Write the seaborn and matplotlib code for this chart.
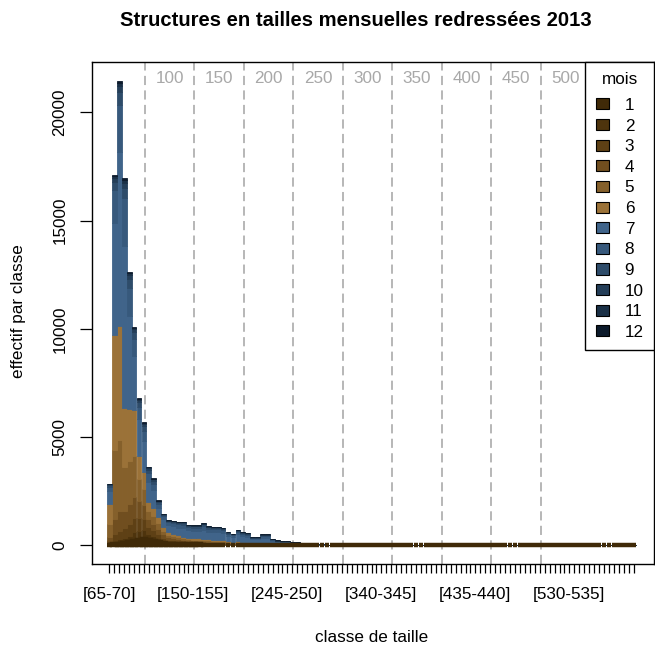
import matplotlib
matplotlib.use("Agg")
import matplotlib.pyplot as plt
import matplotlib.transforms as mtransforms
from matplotlib.patches import Patch
from matplotlib.colors import to_rgba
import pandas as pd
import seaborn as sns

# ---- size classes (5 units wide) -------------------------------------------
class_low = list(range(65, 600, 5))
class_labels = [f"[{lo}-{lo + 5}]" for lo in class_low]
shown_labels = ["[65-70]", "[150-155]", "[245-250]", "[340-345]", "[435-440]", "[530-535]"]
ref_sizes = [100, 150, 200, 250, 300, 350, 400, 450, 500]

months = list(range(1, 13))
month_colors = ["#402a08", "#4e340d", "#5e4015", "#704e1f", "#85602b", "#9b7238",
                "#40648a", "#37597c", "#2e4c6a", "#243e58", "#1a3046", "#0c1a2b"]

# ---- monthly counts per class (first 44 classes; larger classes are empty) --
m01 = [30, 60, 80, 100, 150, 200, 250, 300, 250, 200, 150, 100, 80, 70, 60, 50, 50, 45, 45, 40, 40, 35,
       35, 30, 25, 25, 25, 25, 20, 15, 15, 15, 15, 10, 10, 10, 5, 5, 5, 5, 5, 5, 0, 0]
m02 = [60, 150, 200, 250, 300, 400, 400, 400, 300, 250, 200, 130, 90, 80, 70, 60, 55, 50, 50, 45, 45, 40,
       40, 40, 30, 30, 30, 30, 25, 20, 20, 20, 20, 15, 10, 10, 10, 10, 5, 5, 5, 5, 5, 5]
m03 = [110, 300, 400, 450, 550, 650, 600, 500, 300, 250, 200, 130, 100, 90, 80, 70, 60, 55, 55, 50, 45, 45,
       40, 40, 35, 30, 35, 30, 25, 20, 20, 20, 20, 15, 10, 10, 10, 10, 10, 5, 5, 5, 5, 5]
m04 = [200, 700, 900, 800, 900, 1000, 800, 650, 350, 300, 220, 150, 110, 90, 80, 70, 60, 60, 55, 55, 50, 45,
       45, 40, 35, 30, 35, 30, 30, 20, 20, 25, 20, 15, 15, 10, 10, 10, 5, 5, 5, 5, 5, 5]
m05 = [600, 3200, 3300, 2000, 2000, 1900, 1000, 750, 400, 350, 250, 160, 110, 100, 80, 70, 60, 60, 55, 55, 50, 45,
       45, 45, 35, 30, 35, 30, 30, 20, 20, 25, 20, 15, 10, 10, 10, 5, 5, 5, 5, 5, 0, 0]
m06 = [900, 5290, 5270, 2730, 2400, 2100, 1100, 800, 400, 400, 280, 180, 130, 110, 90, 70, 65, 60, 60, 55, 50, 50,
       45, 45, 40, 35, 40, 35, 30, 25, 25, 25, 25, 20, 15, 10, 10, 10, 10, 5, 5, 5, 5, 5]
m07 = [600, 5200, 8000, 7500, 4300, 2500, 1700, 1400, 950, 800, 450, 350, 310, 340, 360, 400, 350, 345, 355, 425, 350, 345,
       350, 325, 240, 210, 305, 255, 240, 155, 155, 220, 230, 130, 95, 80, 85, 70, 65, 45, 45, 45, 25, 25]
m08 = [200, 1500, 2200, 2200, 1300, 800, 550, 500, 380, 300, 180, 140, 130, 140, 150, 165, 145, 140, 145, 175, 140, 140,
       140, 135, 100, 85, 125, 100, 95, 60, 60, 90, 90, 50, 35, 35, 35, 30, 25, 20, 20, 20, 10, 10]
m09 = [80, 400, 600, 500, 400, 300, 220, 220, 160, 140, 80, 60, 55, 60, 60, 70, 60, 60, 60, 70, 60, 55,
       60, 55, 40, 35, 50, 45, 40, 25, 25, 40, 40, 25, 15, 15, 15, 10, 10, 10, 10, 10, 5, 5]
m10 = [40, 150, 250, 230, 170, 130, 100, 100, 70, 60, 40, 30, 25, 30, 30, 35, 30, 30, 30, 35, 30, 30,
       30, 30, 20, 20, 30, 20, 20, 15, 15, 20, 20, 10, 10, 5, 5, 5, 5, 5, 5, 5, 0, 0]
m11 = [20, 100, 170, 120, 110, 70, 50, 50, 40, 30, 20, 15, 15, 15, 15, 15, 15, 15, 15, 20, 15, 15,
       15, 10, 10, 10, 10, 10, 10, 10, 10, 10, 10, 5, 5, 5, 5, 5, 5, 0, 0, 0, 0, 0]
m12 = [10, 50, 100, 80, 60, 40, 30, 30, 20, 20, 10, 5, 5, 5, 5, 5, 5, 5, 5, 5, 5, 5,
       5, 5, 5, 0, 5, 5, 5, 0, 0, 0, 0, 0, 0, 0, 0, 0, 0, 0, 0, 0, 0, 0]

monthly = [m01, m02, m03, m04, m05, m06, m07, m08, m09, m10, m11, m12]
empty_tail = [0] * (len(class_low) - len(m01))

rows = []
for mois, counts in zip(months, monthly):
    for pos, n in enumerate(counts + empty_tail):
        rows.append({"pos": pos, "classe": class_labels[pos], "mois": mois, "n": n})
df = pd.DataFrame(rows)

totals = df.groupby("pos")["n"].sum()
peak = totals.max()

# ---- figure -----------------------------------------------------------------
sns.set_style("ticks")
plt.rcParams["font.family"] = ["Liberation Sans", "DejaVu Sans"]
plt.rcParams["text.color"] = "black"
plt.rcParams["axes.labelcolor"] = "black"
plt.rcParams["xtick.color"] = "black"
plt.rcParams["ytick.color"] = "black"

W, H = 655, 646
fig = plt.figure(figsize=(W / 100, H / 100), dpi=100)
ax = fig.add_axes([92 / W, 1 - 564 / H, (654 - 92) / W, (564 - 62) / H])

palette = dict(zip(months, month_colors))
sns.histplot(data=df, x="pos", weights="n", hue="mois", hue_order=months[::-1],
             palette=palette, multiple="stack", discrete=True, shrink=0.97,
             element="bars", fill=True, alpha=1, linewidth=0, legend=False, ax=ax)

# bars: flat fill; the first month carries a thick outline so empty classes show at zero
base_rgba = to_rgba(month_colors[0])
for p in ax.patches:
    fc = p.get_facecolor()
    p.set_edgecolor(fc)
    if all(abs(a - b) < 1e-3 for a, b in zip(fc[:3], base_rgba[:3])):
        p.set_linewidth(3.2)
        p.set_zorder(2.5)
    else:
        p.set_linewidth(0.6)

# reference size lines
blend = mtransforms.blended_transform_factory(ax.transData, ax.transAxes)
for v in ref_sizes:
    pos = class_low.index(v)
    ax.axvline(pos + 0.2, color="#a3a3a3", lw=1.1, ls=(0, (6, 3.5)), zorder=0.5)
    ax.text(pos + 5.2, 0.968, str(v), transform=blend, ha="center", va="center",
            color="#a8a8a8", fontsize=12.3)

ax.set_xlim(-3.5, 110.1)
ax.set_ylim(-0.04 * peak, 1.04 * peak)

ax.set_xticks(range(len(class_labels)))
ax.set_xticklabels([lab if lab in shown_labels else "" for lab in class_labels])
yt = [0, 5000, 10000, 15000, 20000]
ax.set_yticks(yt)
ax.set_yticklabels([str(t) for t in yt], rotation=90, va="center")

ax.tick_params(axis="x", length=6.8, width=0.9, pad=10, labelsize=12.3, colors="black")
ax.tick_params(axis="y", length=8.6, width=0.9, pad=9.2, labelsize=12.3, colors="black")
for s in ax.spines.values():
    s.set_visible(True)
    s.set_color("black")
    s.set_linewidth(1.0)

ax.set_xlabel("")
ax.set_ylabel("")
fig.text(372 / W, 1 - 637 / H, "classe de taille", ha="center", va="center",
         fontsize=12.3, color="black")
fig.text(19 / W, 1 - 311 / H, "effectif par classe", ha="center", va="center",
         rotation=90, fontsize=12.3, color="black")
fig.text(356 / W, 1 - 21 / H, "Structures en tailles mensuelles redressées 2013",
         ha="center", va="center", fontsize=14.6, fontweight="bold", color="black")

handles = [Patch(facecolor=c, edgecolor="black", linewidth=0.8, label=str(m))
           for m, c in zip(months, month_colors)]
leg = ax.legend(handles=handles, title="mois", loc="upper right", bbox_to_anchor=(1, 1),
                borderaxespad=0, fontsize=12.3, title_fontsize=12.3, frameon=True,
                fancybox=False, edgecolor="black", framealpha=1, handlelength=0.8,
                handleheight=0.62, handletextpad=0.9, labelspacing=0.33, borderpad=0.6)
leg.get_frame().set_linewidth(1.0)
leg._legend_box.sep = 7.7
for t in leg.get_texts():
    t.set_color("black")
leg.get_title().set_color("black")

fig.savefig("out.png", dpi=100)
